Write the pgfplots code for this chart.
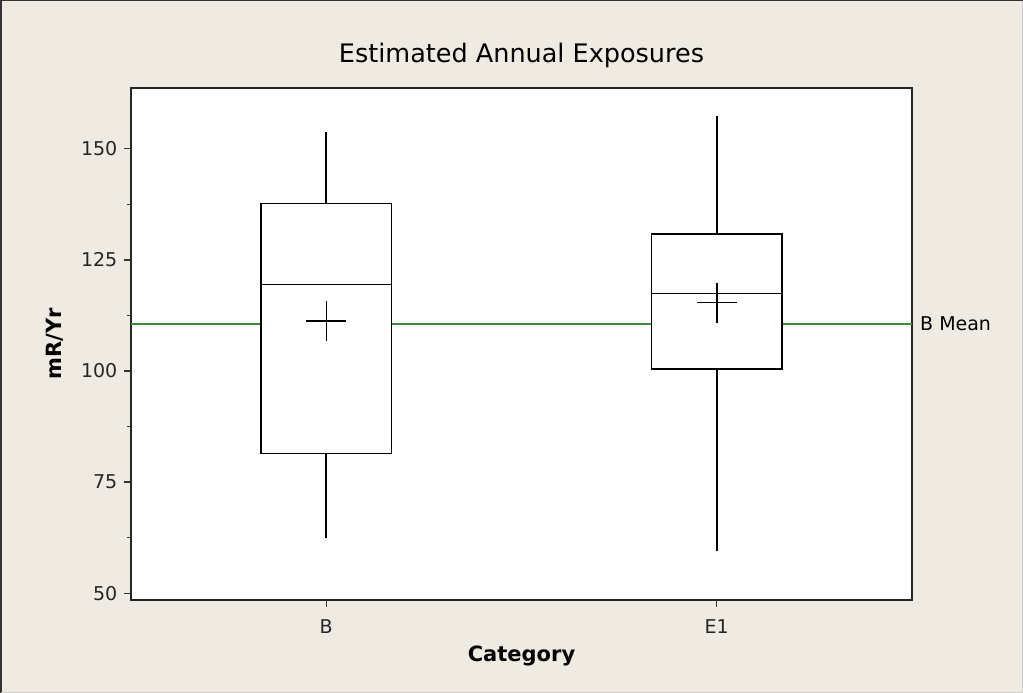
\documentclass[border=0pt]{standalone}
\usepackage{fontspec}
\setmainfont{DejaVu Sans}
\usepackage{pgfplots}
\pgfplotsset{compat=1.18}
\definecolor{mtbg}{HTML}{EFEBE3}
\definecolor{mtgreen}{HTML}{3C8C3C}
\begin{document}
\begin{tikzpicture}
\useasboundingbox (0,0) rectangle (1023pt,693pt);
\fill[mtbg] (0,0) rectangle (1023pt,693pt);
\draw[black!80, line width=1.5pt] (0.75pt,0) -- (0.75pt,692.25pt) -- (1023pt,692.25pt);
\draw[black!20, line width=1pt] (1022.5pt,692pt) -- (1022.5pt,0.5pt) -- (1pt,0.5pt);
\begin{axis}[
  at={(131pt,93pt)}, anchor=south west,
  scale only axis, width=781pt, height=512pt,
  xmin=-0.5, xmax=1.5, ymin=48.45, ymax=163.7,
  xtick={0,1}, xticklabels={B,E1},
  ytick={50,75,100,125,150}, minor y tick num=1,
  xtick pos=bottom, ytick pos=left, tick align=outside,
  major tick length=7pt, minor tick length=4pt,
  tick style={black!80, line width=1.2pt},
  axis line style={black!85, line width=1.5pt},
  axis background/.style={fill=white},
  /pgf/number format/assume math mode=true,
  ticklabel style={font=\fontsize{19}{22}\selectfont, inner sep=0pt, text=black!85},
  yticklabel style={anchor=east, xshift=-6.5pt},
  xticklabel style={anchor=base, yshift=-26.8pt},
  title={Estimated Annual Exposures},
  title style={at={(0.5,1)}, anchor=base, yshift=19.7pt, inner sep=0pt,
    font=\fontsize{25.5}{30}\selectfont},
  xlabel={Category},
  xlabel style={at={(axis description cs:0.5,0)}, anchor=base, yshift=-61.7pt,
    inner sep=0pt, font=\fontsize{21}{25}\selectfont\bfseries},
  ylabel={mR/Yr},
  ylabel style={at={(axis description cs:-0.0887,0.5)}, anchor=base,
    inner sep=0pt, font=\fontsize{21}{25}\selectfont\bfseries},
  clip=false,
]
% mean of B
\addplot[mtgreen, line width=1.3pt] coordinates {(-0.5,110.6) (1.5,110.6)};
\node[anchor=west, inner sep=0pt, xshift=8pt, font=\fontsize{19}{22}\selectfont]
  at (axis cs:1.5,110.6) {B Mean};
% B: whiskers, box, median
\addplot[black, line width=1.6pt] coordinates {(0,62.4) (0,81.4)};
\addplot[black, line width=1.6pt] coordinates {(0,137.7) (0,153.8)};
\addplot[black, fill=white, line width=1.6pt] coordinates
  {(-0.1675,81.4) (0.1675,81.4) (0.1675,137.7) (-0.1675,137.7)} -- cycle;
\addplot[black, line width=1.6pt] coordinates {(-0.1675,119.5) (0.1675,119.5)};
% E1: whiskers, box, median
\addplot[black, line width=1.6pt] coordinates {(1,59.5) (1,100.5)};
\addplot[black, line width=1.6pt] coordinates {(1,130.8) (1,157.5)};
\addplot[black, fill=white, line width=1.6pt] coordinates
  {(0.8325,100.5) (1.1675,100.5) (1.1675,130.8) (0.8325,130.8)} -- cycle;
\addplot[black, line width=1.6pt] coordinates {(0.8325,117.4) (1.1675,117.4)};
% means
\addplot[only marks, mark=+, mark size=20pt, black, mark options={line width=1.5pt}]
  coordinates {(0,111.3) (1,115.4)};
\end{axis}
\end{tikzpicture}
\end{document}
